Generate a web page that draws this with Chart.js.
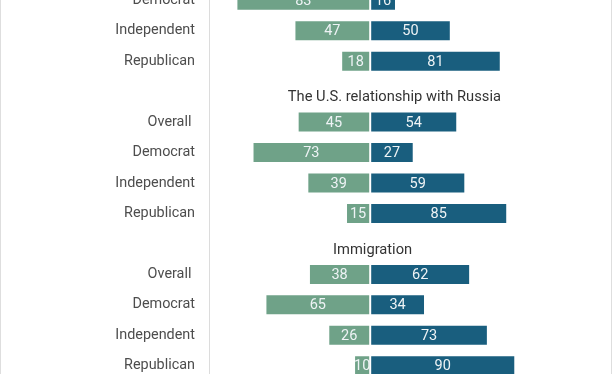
<!DOCTYPE html>
<html>
<head>
<meta charset="utf-8">
<script src="https://cdn.jsdelivr.net/npm/chart.js@4/dist/chart.umd.min.js"></script>
<style>
  html, body { margin: 0; padding: 0; background: #fff; }
  #frame { position: relative; width: 612px; height: 374px; overflow: hidden; }
  #c { position: absolute; left: 0; top: -15px; }
  #edge { position: absolute; inset: 0; border-left: 1px solid #dedede; border-right: 1px solid #dedede; pointer-events: none; }
</style>
</head>
<body>
<div id="frame">
  <canvas id="c" width="612" height="396"></canvas>
  <div id="edge"></div>
</div>
<script>
// rows top to bottom; "" rows hold the group titles (chart is cropped at the top)
const rowLabels = ["Democrat", "Independent", "Republican",
  "", "Overall ", "Democrat", "Independent", "Republican",
  "", "Overall ", "Democrat", "Independent", "Republican"];
const greenVals = [83, 47, 18, null, 45, 73, 39, 15, null, 38, 65, 26, 10];
const blueVals  = [16, 50, 81, null, 54, 27, 59, 85, null, 62, 34, 73, 90];
const groupTitles = [
  { row: 3, text: "The U.S. relationship with Russia", at: 15 },
  { row: 8, text: "Immigration", at: 1.5 },
];

const GREEN = "#6fa288", BLUE = "#195e7e";
const FONT = "Roboto, 'Noto Sans', sans-serif";

// light numbers centred in each segment
const valueLabels = {
  id: "valueLabels",
  afterDatasetsDraw(chart) {
    const ctx = chart.ctx;
    ctx.save();
    ctx.font = "14.5px " + FONT;
    ctx.fillStyle = "#eef3f5";
    ctx.textAlign = "center";
    ctx.textBaseline = "middle";
    chart.data.datasets.forEach((ds, di) => {
      chart.getDatasetMeta(di).data.forEach((el, i) => {
        const v = ds.data[i];
        if (v == null) return;
        ctx.fillText(String(Math.abs(v)), (el.x + el.base) / 2, el.y + 1);
      });
    });
    ctx.restore();
  },
};

const titles = {
  id: "groupTitles",
  afterDraw(chart) {
    const ctx = chart.ctx, xs = chart.scales.x, ys = chart.scales.y;
    ctx.save();
    ctx.font = "14.7px " + FONT;
    ctx.fillStyle = "#333333";
    ctx.textAlign = "center";
    ctx.textBaseline = "middle";
    groupTitles.forEach(t => ctx.fillText(t.text, xs.getPixelForValue(t.at), ys.getPixelForValue(t.row) + 6));
    ctx.restore();
  },
};

new Chart(document.getElementById("c"), {
  type: "bar",
  data: {
    labels: rowLabels,
    datasets: [
      { label: "green", data: greenVals.map(v => v == null ? null : -v), backgroundColor: GREEN },
      { label: "blue", data: blueVals, backgroundColor: BLUE },
    ],
  },
  options: {
    indexAxis: "y",
    responsive: false, animation: false, devicePixelRatio: 1,
    layout: { padding: 0 },
    datasets: { bar: { categoryPercentage: 1, barPercentage: 0.69, borderWidth: 1,
      borderColor: "rgba(255,255,255,0.45)", borderSkipped: false } },
    plugins: { legend: { display: false }, tooltip: { enabled: false }, title: { display: false } },
    scales: {
      x: { display: false, stacked: true, min: -100, max: 150 },
      y: {
        stacked: true,
        afterFit(s) { s.width = 209; s.paddingTop = 0; s.paddingBottom = 0; },
        grid: { display: false, drawTicks: true, tickLength: 14 },
        border: { display: true, color: "#dcdcdc" },
        ticks: { padding: 0, color: "#4d4d4d", font: { family: FONT, size: 14.4 }, autoSkip: false },
      },
    },
  },
  plugins: [valueLabels, titles],
});
</script>
</body>
</html>
